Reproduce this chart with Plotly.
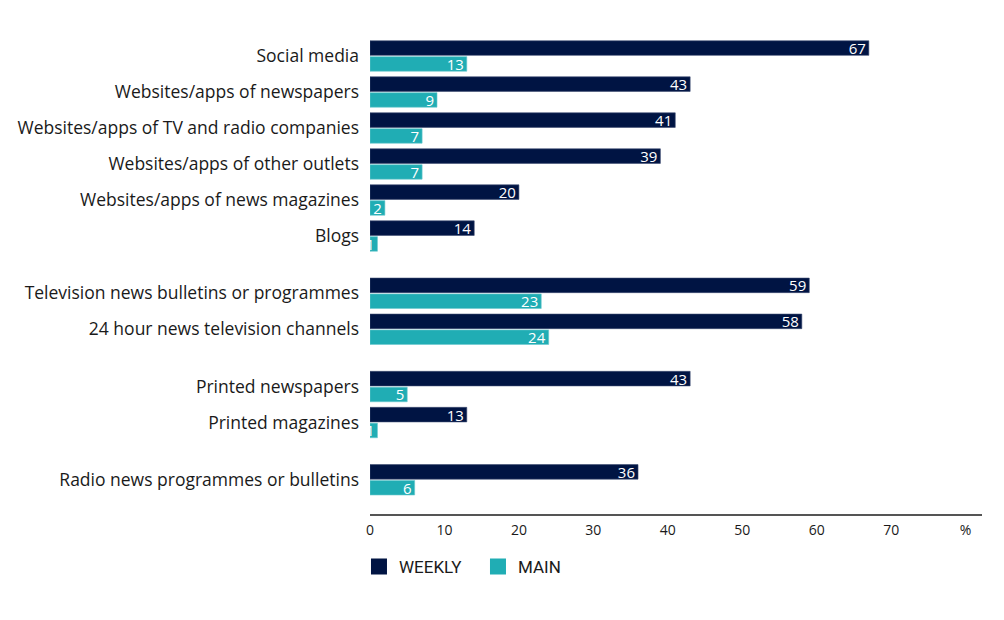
import plotly.graph_objects as go

# survey shares, %
groups = [
    ["Social media", "Websites/apps of newspapers", "Websites/apps of TV and radio companies",
     "Websites/apps of other outlets", "Websites/apps of news magazines", "Blogs"],
    ["Television news bulletins or programmes", "24 hour news television channels"],
    ["Printed newspapers", "Printed magazines"],
    ["Radio news programmes or bulletins"],
]
weekly = [67, 43, 41, 39, 20, 14, 59, 58, 43, 13, 36]
main = [13, 9, 7, 7, 2, 1, 23, 24, 5, 1, 6]
x_ticks = [0, 10, 20, 30, 40, 50, 60, 70]

NAVY = "#001443"
TEAL = "#20adb4"
GAP = 0.59  # extra space between groups, in bar-slot units

cats, pos = [], []
p = 0
for g in groups:
    for c in g:
        cats.append(c)
        pos.append(p)
        p += 1
    p += GAP

fig = go.Figure()
for name, vals, col, edge in [("WEEKLY", weekly, NAVY, "#3a4a70"), ("MAIN", main, TEAL, "#6cc9ce")]:
    fig.add_trace(go.Bar(y=pos, x=vals, orientation="h", name=name, showlegend=False,
                         marker=dict(color=col, line=dict(color=edge, width=0.6)),
                         text=vals, textposition="inside", insidetextanchor="end", textangle=0,
                         textfont=dict(color="white", size=15, family="Open Sans")))
    # legend swatch
    fig.add_trace(go.Scatter(x=[None], y=[None], mode="markers", name=name,
                             marker=dict(symbol="square", size=16, color=col)))

fig.update_layout(
    width=988, height=604,
    margin=dict(l=362, r=14, t=30, b=98),
    barmode="group", bargap=0.12, bargroupgap=0.08,
    plot_bgcolor="white", paper_bgcolor="white",
    font=dict(family="Open Sans", size=17.5, color="#1a1a1a"),
    uniformtext=dict(mode="show", minsize=13),
    legend=dict(orientation="h", x=-0.018, y=-0.111, xanchor="left", yanchor="middle",
                font=dict(family="Liberation Sans Narrow, Roboto", size=17, color="#1a1a1a"),
                traceorder="normal", itemsizing="trace",
                entrywidth=74, entrywidthmode="pixels"),
)
fig.update_xaxes(range=[0, 82.2], tickvals=x_ticks + [80],
                 ticktext=[str(v) for v in x_ticks] + ["%"],
                 showgrid=False, zeroline=False, showline=True, linecolor="#555555",
                 linewidth=1.5, ticks="", tickfont=dict(size=14),
                 ticklabelstandoff=2, automargin=False)
fig.update_yaxes(range=[12.72, -0.5], tickvals=pos, ticktext=cats,
                 showgrid=False, zeroline=False, showline=False, ticks="",
                 ticklabelstandoff=10, automargin=False)

fig.write_html("out.html")
